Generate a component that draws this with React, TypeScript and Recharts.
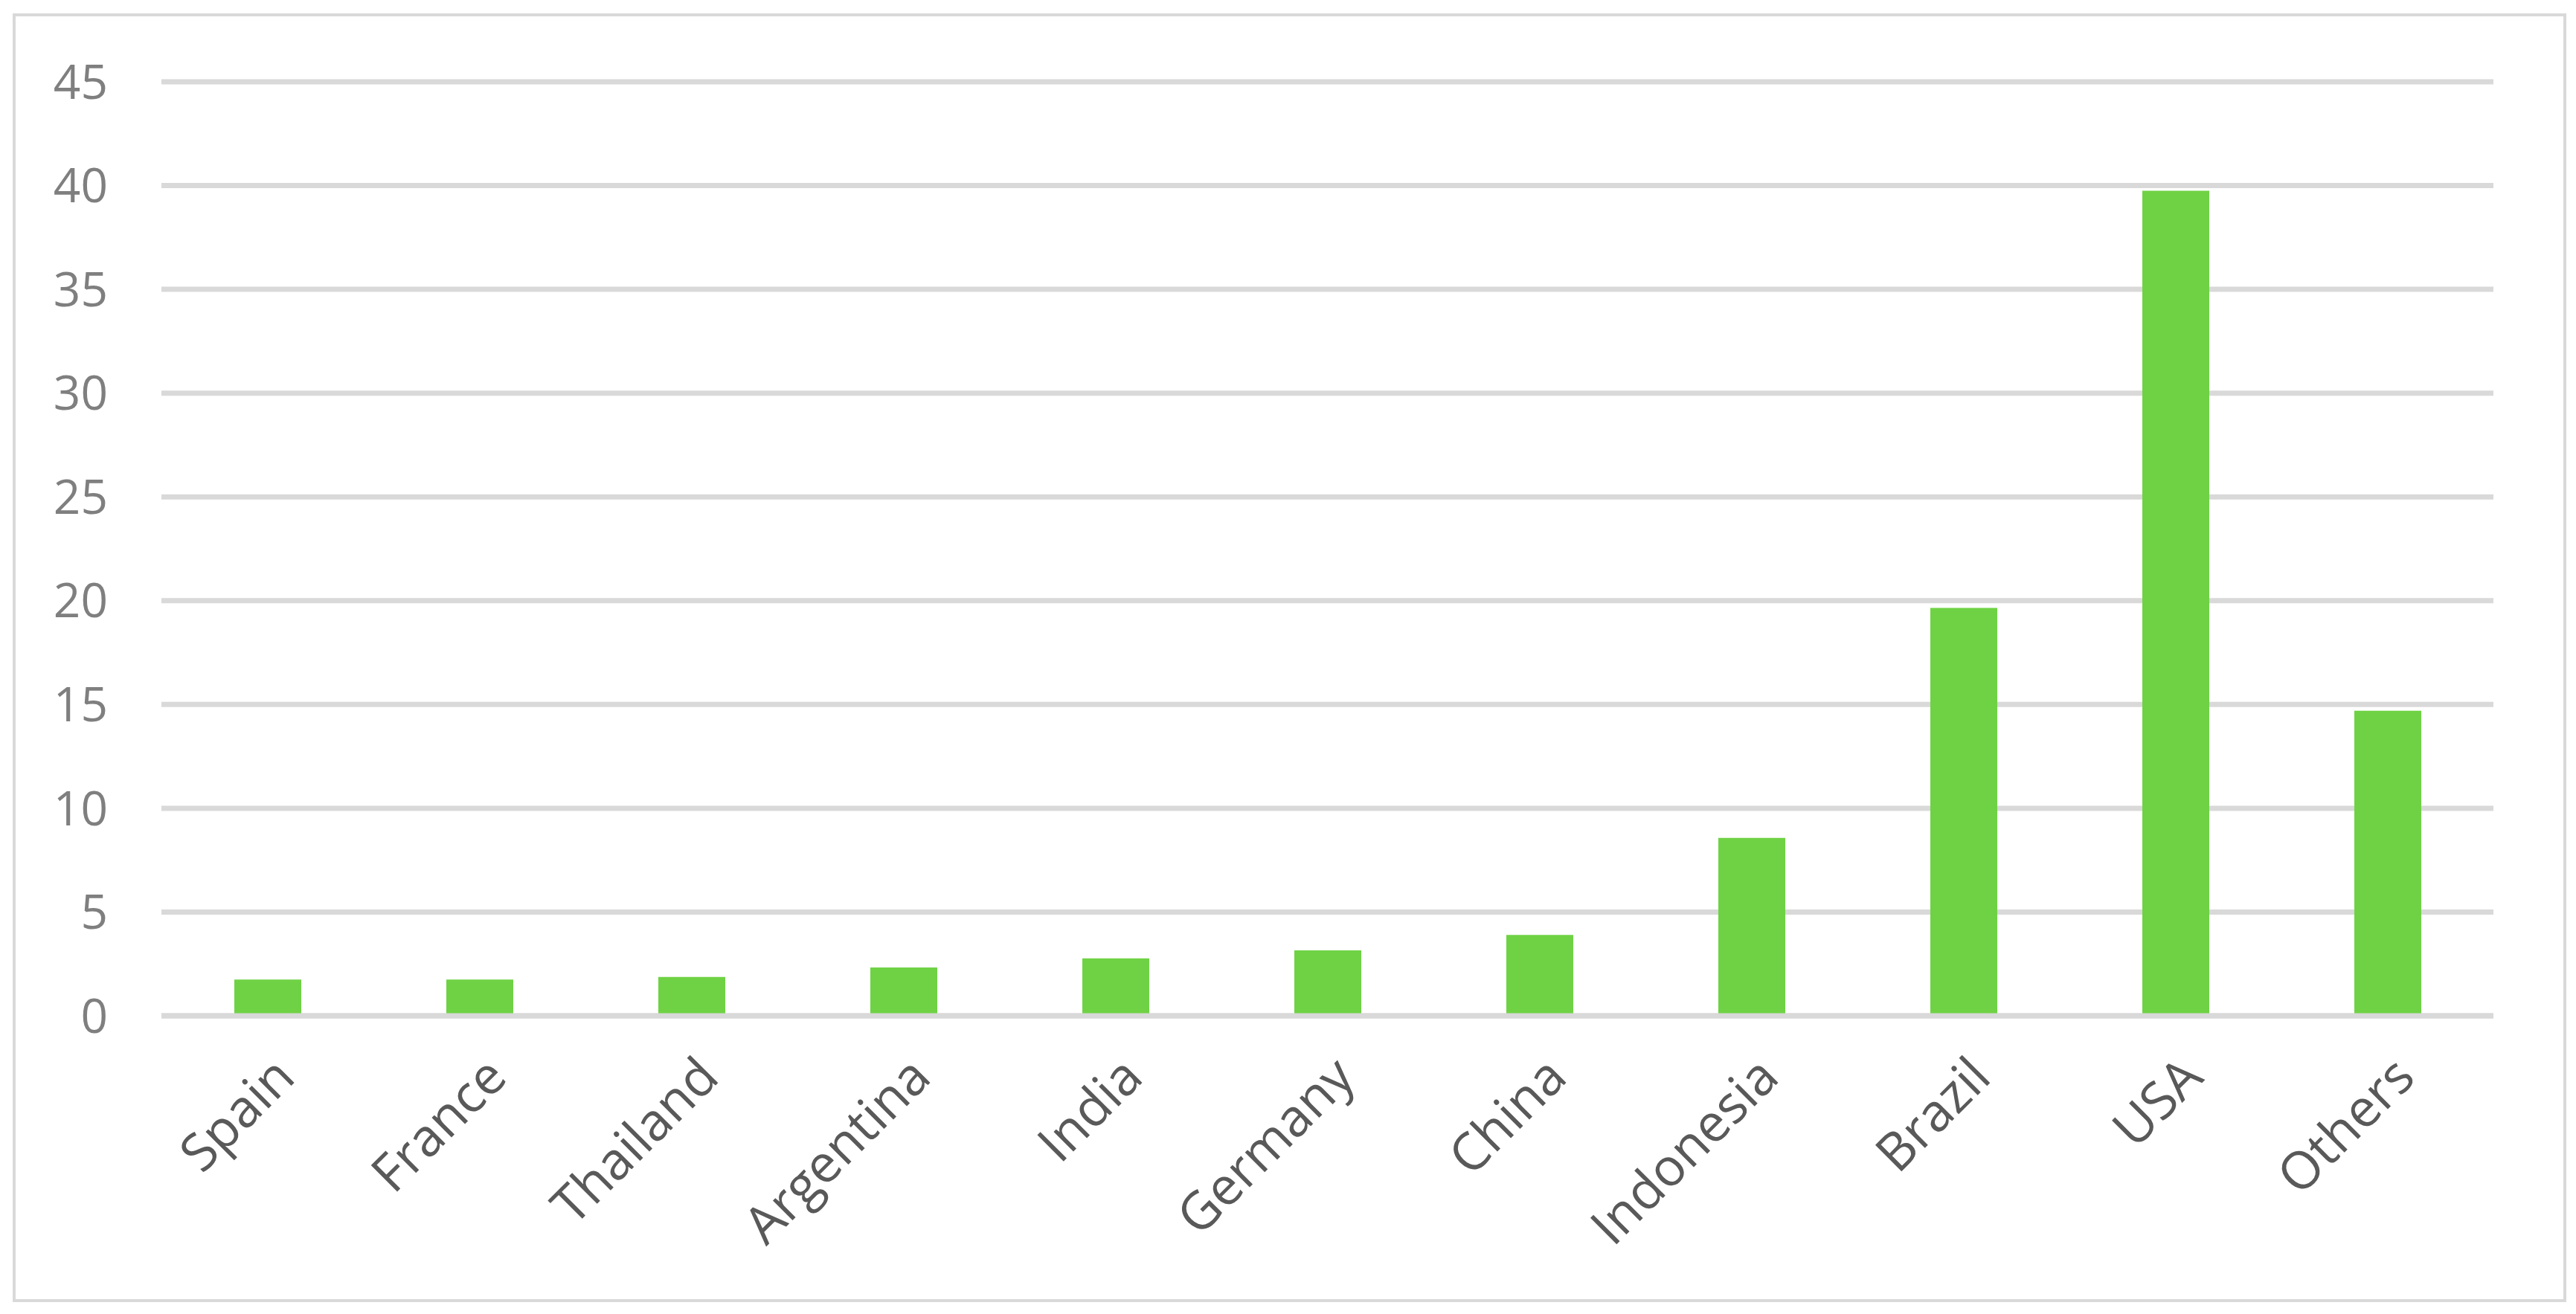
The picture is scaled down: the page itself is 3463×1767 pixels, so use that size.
import { BarChart, Bar, XAxis, YAxis, CartesianGrid, ReferenceLine } from 'recharts';

const countries = ['Spain', 'France', 'Thailand', 'Argentina', 'India', 'Germany', 'China', 'Indonesia', 'Brazil', 'USA', 'Others'];
const values = [1.75, 1.75, 1.87, 2.33, 2.77, 3.15, 3.9, 8.57, 19.65, 39.75, 14.7];
const yTicks = [0, 5, 10, 15, 20, 25, 30, 35, 40, 45];

const data = countries.map((name, i) => ({ name, value: values[i] }));

const FONT = '"Open Sans", "Noto Sans", sans-serif';
const GRID = '#d9d9d9';

function CountryTick({ x, y, payload }: any) {
  const px = x + 40;
  const py = y + 86;
  return (
    <text
      x={px}
      y={py}
      textAnchor="end"
      fill="#595959"
      fontSize={70}
      fontFamily={FONT}
      transform={`rotate(-45, ${px}, ${py})`}
    >
      {payload.value}
    </text>
  );
}

export default function App() {
  return (
    <div style={{ position: 'fixed', left: 0, top: 0, width: 3463, height: 1767, background: '#fff' }}>
      <div
        style={{
          position: 'absolute', left: 17, top: 18, width: 3433, height: 1733,
          boxSizing: 'border-box', border: `4px solid ${GRID}`,
        }}
      />
      <div style={{ position: 'absolute', left: 0, top: 0 }}>
        <BarChart
          width={3463}
          height={1767}
          data={data}
          margin={{ top: 110, right: 111, left: 0, bottom: 51 }}
          barCategoryGap="34%"
        >
          <CartesianGrid horizontal vertical={false} stroke={GRID} strokeWidth={7} />
          <XAxis
            dataKey="name"
            axisLine={false}
            tickLine={false}
            tickSize={0}
            tickMargin={0}
            interval={0}
            height={350}
            tick={<CountryTick />}
          />
          <YAxis
            domain={[0, 45]}
            ticks={yTicks}
            width={217}
            axisLine={false}
            tickLine={false}
            tickSize={0}
            tickMargin={72}
            tick={{ fill: '#7f7f7f', fontSize: 64, fontFamily: FONT }}
          />
          <Bar dataKey="value" fill="#6fd245" barSize={90} isAnimationActive={false} />
          <ReferenceLine y={0} stroke={GRID} strokeWidth={7} />
        </BarChart>
      </div>
    </div>
  );
}
